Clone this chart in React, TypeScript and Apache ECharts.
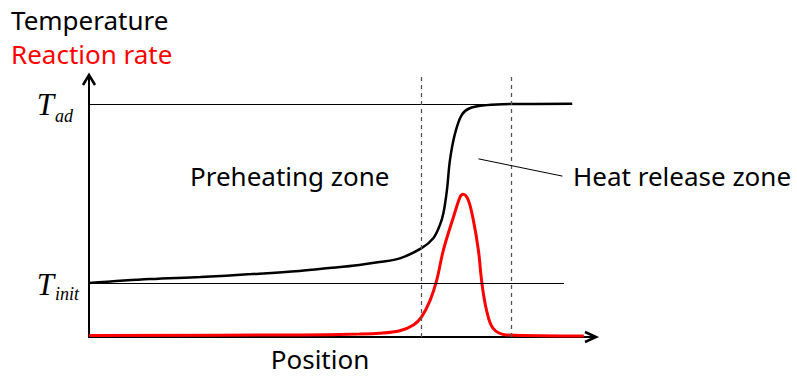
import { useEffect, useRef } from "react";
import * as echarts from "echarts";

// Temperature profile across the flame (position 0..100, temperature 0..100)
const temperaturePos = [0, 12, 22, 32, 41.5, 47.4, 53.3, 57.3, 61.3, 65.6, 67.9, 69.2, 69.9, 70.6, 71.2, 72.2, 73.5, 75.1, 78.4, 83, 95.3];
const temperatureVal = [20.6, 22.1, 22.9, 24, 25.2, 26.3, 27.5, 28.6, 30.0, 33.9, 37.7, 42.7, 47.2, 56.1, 67.6, 77.7, 84.7, 87.3, 88.5, 88.9, 89];

// Reaction rate profile
const ratePos = [0, 41.5, 53.3, 57.3, 61.3, 64.0, 65.6, 67.3, 68.6, 69.9, 71.9, 73.2, 73.8, 74.8, 75.8, 76.8, 77.5, 78.4, 79.7, 82.4, 97.6];
const rateVal = [0.6, 0.8, 1.1, 1.4, 2.4, 4.6, 7.7, 14.1, 21.8, 33.2, 45.9, 53.5, 54.5, 52.3, 44.7, 33.2, 20.5, 10.3, 3.3, 0.8, 0.4];

// Reference temperature levels and their extents
const T_INIT = 20.6;
const T_AD = 89;
const T_INIT_END = 93.7;
const T_AD_END = 95.3;

// Boundaries of the heat release zone
const zoneBounds = [65.6, 83.3];

// Leader line from the heat release zone to its label
const leaderStart = [76.8, 68.0];
const leaderEnd = [93.4, 61.4];

const SANS = '"Noto Sans", "Liberation Sans", Arial, sans-serif';
const SERIF = '"Liberation Serif", "DejaVu Serif", serif';

export default function App() {
  const ref = useRef<HTMLDivElement>(null);

  useEffect(() => {
    if (!ref.current) return;
    const chart = echarts.init(ref.current, undefined, { renderer: "svg" });

    const temperature = temperaturePos.map((x, i) => [x, temperatureVal[i]]);
    const rate = ratePos.map((x, i) => [x, rateVal[i]]);

    const dashed = { color: "#555", width: 1.3, type: [4, 4] };

    chart.setOption({
      animation: false,
      grid: { left: 89, top: 75, right: 201, bottom: 39 },
      xAxis: {
        type: "value",
        min: 0,
        max: 100,
        axisLine: { show: true, lineStyle: { color: "#000", width: 2 } },
        axisTick: { show: false },
        axisLabel: { show: false },
        splitLine: { show: false },
      },
      yAxis: {
        type: "value",
        min: 0,
        max: 100,
        axisLine: { show: true, lineStyle: { color: "#000", width: 2 } },
        axisTick: { show: false },
        axisLabel: { show: false },
        splitLine: { show: false },
      },
      series: [
        {
          name: "Temperature",
          type: "line",
          data: temperature,
          smooth: 0.35,
          showSymbol: false,
          lineStyle: { color: "#000", width: 2.5 },
          z: 3,
          markLine: {
            silent: true,
            symbol: ["none", "none"],
            label: { show: false },
            data: [
              [
                { coord: [0, T_AD], lineStyle: { color: "#000", width: 1, type: "solid" } },
                { coord: [T_AD_END, T_AD] },
              ],
              [
                { coord: [0, T_INIT], lineStyle: { color: "#000", width: 1, type: "solid" } },
                { coord: [T_INIT_END, T_INIT] },
              ],
              { xAxis: zoneBounds[0], lineStyle: dashed },
              { xAxis: zoneBounds[1], lineStyle: dashed },
              [
                { coord: leaderStart, lineStyle: { color: "#000", width: 1, type: "solid" } },
                { coord: leaderEnd },
              ],
            ],
          },
        },
        {
          name: "Reaction rate",
          type: "line",
          data: rate,
          smooth: 0.35,
          showSymbol: false,
          lineStyle: { color: "#ff0000", width: 3 },
          z: 4,
        },
      ],
    });

    const origin = chart.convertToPixel({ gridIndex: 0 }, [0, 0]) as number[];
    const xEnd = chart.convertToPixel({ gridIndex: 0 }, [100, 0]) as number[];
    const yEnd = chart.convertToPixel({ gridIndex: 0 }, [0, 100]) as number[];
    const yAd = (chart.convertToPixel({ gridIndex: 0 }, [0, T_AD]) as number[])[1];
    const yInit = (chart.convertToPixel({ gridIndex: 0 }, [0, T_INIT]) as number[])[1];

    const txt = (text: string, x: number, y: number, font: string, fill: string, align = "left") => ({
      type: "text",
      x,
      y,
      silent: true,
      style: {
        text,
        font,
        fill,
        align,
        textAlign: align,
        verticalAlign: "middle",
        textVerticalAlign: "middle",
      },
    });

    chart.setOption({
      graphic: [
        {
          type: "polyline",
          silent: true,
          shape: { points: [[yEnd[0] - 6, yEnd[1] + 10], [yEnd[0], yEnd[1]], [yEnd[0] + 6, yEnd[1] + 10]] },
          style: { stroke: "#000", lineWidth: 2.5, fill: "none" },
        },
        {
          type: "polyline",
          silent: true,
          shape: { points: [[xEnd[0] - 11, xEnd[1] - 5], [xEnd[0], xEnd[1]], [xEnd[0] - 11, xEnd[1] + 5]] },
          style: { stroke: "#000", lineWidth: 2.5, fill: "none" },
        },
        txt("Temperature", 11, 20, `26px ${SANS}`, "#000"),
        txt("Reaction rate", 11, 54, `26px ${SANS}`, "#ff0000"),
        txt("Preheating zone", 190, 176, `26px ${SANS}`, "#000"),
        txt("Heat release zone", 573, 176, `26px ${SANS}`, "#000"),
        txt("Position", 320, 359, `26px ${SANS}`, "#000", "center"),
        txt("T", origin[0] - 35, yAd + 1, `italic 31px ${SERIF}`, "#000", "right"),
        txt("ad", origin[0] - 34, yAd + 12, `italic 18px ${SERIF}`, "#000"),
        txt("T", origin[0] - 35, yInit + 1, `italic 31px ${SERIF}`, "#000", "right"),
        txt("init", origin[0] - 34, yInit + 11, `italic 18px ${SERIF}`, "#000"),
      ],
    });

    return () => chart.dispose();
  }, []);

  return (
    <div
      ref={ref}
      style={{ position: "absolute", left: 0, top: 0, width: 797, height: 376, background: "#fff" }}
    />
  );
}
